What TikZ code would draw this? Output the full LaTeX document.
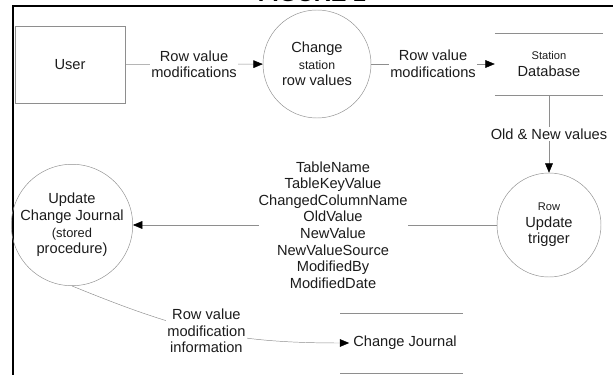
\documentclass[tikz,border=0pt]{standalone}
\usepackage{fontspec}
\setmainfont{Liberation Sans}
\usetikzlibrary{arrows.meta}
\definecolor{LineGray}{HTML}{8E8E8E}
\definecolor{InkGray}{HTML}{1C1C1C}

\begin{document}
\begin{tikzpicture}[x=0.03cm, y=-0.03cm,
  proc/.style={draw=LineGray, circle, inner sep=0pt, minimum size=3.24cm, align=center, text=InkGray},
  flow/.style={draw=LineGray, -{Triangle[length=2.8mm, width=2.3mm, color=black]}},
  lbl/.style={fill=white, inner sep=1pt, align=center, text=InkGray},
  big/.style={font=\fontsize{12.5}{14.2}\selectfont},
  tiny/.style={font=\fontsize{9.5}{11}\selectfont}]%
\useasboundingbox (0,0) rectangle (613,375);%
\clip (0,0) rectangle (613,375);%
% frame and title
\draw[line width=0.07cm] (13,375) -- (13,6) -- (613,6);%
\node[font=\bfseries\fontsize{20}{24}\selectfont, anchor=base] (fig) at (312,2) {FIGURE 1};%
% nodes
\node[draw=LineGray, minimum width=3.3cm, minimum height=2.31cm, text=InkGray, big] (user) at (70,64.5) {User};%
\node[proc, big] (chg) at (317,64) {Change\\{\fontsize{10.5}{12}\selectfont station}\\row values};%
\node[minimum width=3.24cm, minimum height=1.86cm, align=center, text=InkGray, big] (db) at (549,64) {{\fontsize{9.5}{11}\selectfont Station}\\Database};%
\draw[LineGray] (db.north west) -- (db.north east);%
\draw[LineGray] (db.south west) -- (db.south east);%
\node[proc, minimum size=3.12cm, big] (trig) at (549,225) {{\fontsize{9.5}{11}\selectfont Row}\\Update\\trigger};%
\node[proc, minimum size=3.3cm, big] (upd) at (72,225) {Update\\Change Journal\\{\fontsize{11}{13}\selectfont (stored}\hspace*{6mm}\\procedure)};%
\node[text=InkGray, big] (cj) at (405,343) {Change Journal};%
\draw[LineGray] (340,313) -- (463,313);%
\draw[LineGray] (340,373) -- (463,373);%
% flows
\draw[flow] (user) -- node[lbl, big] {Row value\\modifications} (chg);%
\draw[flow] (chg) -- node[lbl, big] {Row value\\modifications} (db);%
\draw[flow] (db) -- node[lbl, big] {Old \& New values} (trig);%
\draw[flow] (trig) -- node[lbl, big, inner xsep=0pt, pos=0.45] {TableName\\TableKeyValue\\ChangedColumnName\\OldValue\\NewValue\\NewValueSource\\ModifiedBy\\ModifiedDate} (upd);%
\draw[flow] (upd.south) .. controls (180,330) and (230,343) .. node[lbl, big] {Row value\\modification\\information} (cj.west);%
\end{tikzpicture}
\end{document}
